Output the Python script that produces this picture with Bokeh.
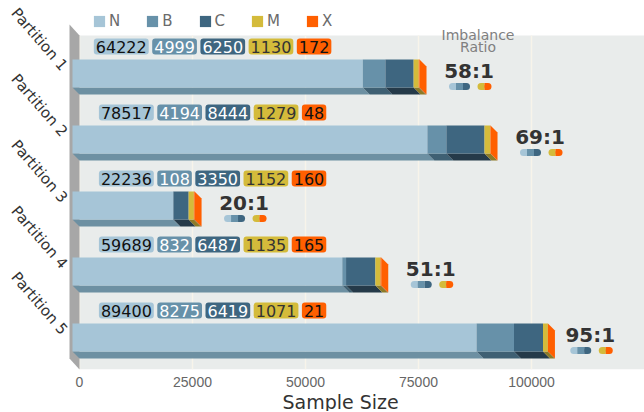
import numpy as np
from bokeh.plotting import figure
from bokeh.models import (Range1d, FixedTicker, Legend, LegendItem, Title,
                          NumeralTickFormatter, ColumnDataSource)
from bokeh.core.properties import value
from bokeh.embed import file_html
from bokeh.resources import INLINE

# ---------------- data ----------------
partitions = ["Partition 1", "Partition 2", "Partition 3", "Partition 4", "Partition 5"]
classes = ["N", "B", "C", "M", "X"]
N = [64222, 78517, 22236, 59689, 89400]
B = [4999, 4194, 108, 832, 8275]
C = [6250, 8444, 3350, 6487, 6419]
M = [1130, 1279, 1152, 1135, 1071]
X = [172, 48, 160, 165, 21]
ratios = ["58:1", "69:1", "20:1", "51:1", "95:1"]
x_ticks = [0, 25000, 50000, 75000, 100000]

# ---------------- style ----------------
front_colors = {"N": "#a6c5d7", "B": "#6791a9", "C": "#3e6680", "M": "#d4bb3b", "X": "#ff5f00"}
bottom_colors = {"N": "#6d90a2", "B": "#3f6073", "C": "#253a49", "M": "#8c7b27", "X": "#8c4a10"}
text_colors = {"N": "#111111", "B": "#ffffff", "C": "#ffffff", "M": "#333333", "X": "#111111"}
SIDE_COLOR = "#ff5f00"
BG = "#e9eceb"
WALL = "#a7a7a7"
GRID = "#f8f4ea"
FONT = "DejaVu Sans"

FRAME_W, FRAME_H = 644, 369
PX = 1000 / 4.52                  # data units per pixel (x)
X_START = -79 * PX                # zero sits 79 px from the left edge
X_END = X_START + FRAME_W * PX
PY = 1 / 66.0                     # data units per pixel (y)
Y_TOP = -68 * PY
Y_BOTTOM = Y_TOP + FRAME_H * PY
PLANE_TOP = -0.5

DX, DY = 7 * PX, 7 * PY
FT, FB = -9 * PY, 19 * PY         # front face top / bottom rel. to category
WALL_W = 10 * PX
LABEL_DY = -22 * PY
LABEL_CENTER = 29000
IR_DY = 2 * PY
MINI_DY = 18 * PY

p = figure(frame_width=FRAME_W, frame_height=FRAME_H,
           x_range=Range1d(X_START, X_END), y_range=Range1d(Y_BOTTOM, Y_TOP),
           output_backend="svg", toolbar_location=None, y_axis_location=None,
           min_border_left=0, min_border_right=0, min_border_top=0, min_border_bottom=0,
           background_fill_color="white", border_fill_color="white")
p.outline_line_color = None

# background plane, grid lines on it, and left wall
p.quad(left=0, right=X_END, top=PLANE_TOP, bottom=Y_BOTTOM, fill_color=BG, line_color=None, level="image")
p.segment(x0=x_ticks, y0=[PLANE_TOP] * len(x_ticks), x1=x_ticks, y1=[Y_BOTTOM] * len(x_ticks),
          line_color=GRID, line_width=1.5, level="underlay")
p.patch(x=[-WALL_W, 0, 0, -WALL_W], y=[PLANE_TOP - 11 * PY, PLANE_TOP, Y_BOTTOM, Y_BOTTOM - 11 * PY],
        fill_color=WALL, line_color=None)

# axis
for g in p.xgrid:
    g.visible = False
for g in p.ygrid:
    g.visible = False
xa = p.xaxis[0]
xa.ticker = FixedTicker(ticks=x_ticks)
xa.formatter = NumeralTickFormatter(format="0")
xa.axis_line_color = None
xa.major_tick_line_color = None
xa.minor_tick_line_color = None
xa.major_tick_out = 0
xa.major_tick_in = 0
xa.major_label_standoff = 7
xa.major_label_text_font_size = "14px"
xa.major_label_text_color = "#666666"

p.add_layout(Title(text="Sample Size", align="left", offset=282, standoff=-2,
                   text_font=FONT, text_font_size="19px", text_font_style="normal",
                   text_color="#333333"), "below")

# ---------------- 3D stacked bars ----------------
vals = {"N": N, "B": B, "C": C, "M": M, "X": X}
ys = np.arange(len(partitions), dtype=float)
cum = np.zeros(len(partitions))
front_r = {}
for c in classes:
    v = np.array(vals[c], dtype=float)
    left, right = cum.copy(), cum + v
    xs_b = [[l - DX, r - DX, r, l] for l, r in zip(left, right)]
    ys_b = [[y + FB, y + FB, y + FB + DY, y + FB + DY] for y in ys]
    p.patches(xs_b, ys_b, fill_color=bottom_colors[c], line_color=None)
    front_r[c] = p.quad(left=left - DX, right=right - DX, top=ys + FT, bottom=ys + FB,
                        fill_color=front_colors[c], line_color=None)
    cum = right
totals = cum
xs_s = [[t - DX, t, t, t - DX] for t in totals]
ys_s = [[y + FT, y + FT + DY, y + FB + DY, y + FB] for y in ys]
p.patches(xs_s, ys_s, fill_color=SIDE_COLOR, line_color=None)

# ---------------- value label boxes ----------------
DIGIT = 0.636 * 16
PAD, GAP = 2, 3.5
lx, ly, lt, lo, lbg, lfg = [], [], [], [], [], []
for i in range(len(partitions)):
    row = [vals[c][i] for c in classes]
    widths = [len(str(v)) * DIGIT + 2 * PAD for v in row]
    total_w = sum(widths) + GAP * (len(row) - 1)
    pos = -total_w / 2
    for c, v, w in zip(classes, row, widths):
        lx.append(LABEL_CENTER)
        ly.append(i + LABEL_DY)
        lt.append(str(v))
        lo.append(pos + PAD)
        lbg.append(front_colors[c])
        lfg.append(text_colors[c])
        pos += w + GAP
src = ColumnDataSource(dict(x=lx, y=ly, text=lt, xo=lo, bg=lbg, fg=lfg))
p.text(x="x", y="y", text="text", x_offset="xo", source=src, text_align="left",
       text_baseline="middle", text_font=value(FONT), text_font_size="16px",
       text_color="fg", background_fill_color="bg", border_radius=3, padding=(PAD, 2))

# ---------------- imbalance ratio ----------------
ir_x = np.minimum(totals + 9400, 113000)
p.text(x=ir_x, y=ys + IR_DY, text=ratios, text_align="center", text_baseline="middle",
       text_font=value(FONT), text_font_size="20px", text_font_style="bold", text_color="#333333")
p.text(x=[ir_x[0] + 2000] * 2, y=[PLANE_TOP - 1 * PY, PLANE_TOP + 11 * PY], text=["Imbalance", "Ratio"],
       text_align="center", text_baseline="middle", text_font=value(FONT),
       text_font_size="14px", text_color="#808080")

# mini icons
my = ys + MINI_DY
c1 = ir_x - 9.5 * PX
c2 = ir_x + 15.5 * PX
h = 3.5 * PX
p.scatter(x=c1 - 7 * PX, y=my, size=7, marker="circle", fill_color=front_colors["N"], line_color=None)
p.scatter(x=c1 + 7 * PX, y=my, size=7, marker="circle", fill_color=front_colors["C"], line_color=None)
p.scatter(x=c2 - h, y=my, size=7, marker="circle", fill_color=front_colors["M"], line_color=None)
p.scatter(x=c2 + h, y=my, size=7, marker="circle", fill_color=front_colors["X"], line_color=None)
p.segment(x0=c1 - 7 * PX, y0=my, x1=c1 - h, y1=my, line_width=7, line_cap="butt", line_color=front_colors["N"])
p.segment(x0=c1 - h, y0=my, x1=c1 + h, y1=my, line_width=7, line_cap="butt", line_color=front_colors["B"])
p.segment(x0=c1 + h, y0=my, x1=c1 + 7 * PX, y1=my, line_width=7, line_cap="butt", line_color=front_colors["C"])
p.segment(x0=c2 - h, y0=my, x1=c2, y1=my, line_width=7, line_cap="butt", line_color=front_colors["M"])
p.segment(x0=c2, y0=my, x1=c2 + h, y1=my, line_width=7, line_cap="butt", line_color=front_colors["X"])

# ---------------- partition labels ----------------
p.text(x=[-WALL_W] * len(partitions), y=ys, text=partitions, x_offset=-5, angle=-0.86,
       text_align="right", text_baseline="middle", text_font=value(FONT),
       text_font_size="15px", text_color="#333333")

# ---------------- legend ----------------
legend = Legend(items=[LegendItem(label=c, renderers=[front_r[c]]) for c in classes],
                orientation="horizontal", location=(92, FRAME_H - 30), padding=0, margin=0,
                spacing=25, label_standoff=3, glyph_width=14, glyph_height=14,
                label_width=1, label_text_font=FONT, label_text_font_size="15px",
                label_text_color="#6b6b6b", background_fill_alpha=0, border_line_color=None)
p.add_layout(legend)

open("out.html", "w").write(file_html(p, INLINE))
